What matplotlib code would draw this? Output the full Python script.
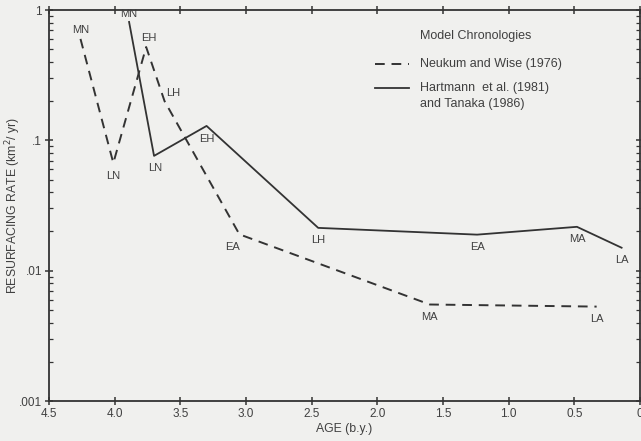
import matplotlib
matplotlib.use('Agg')
import matplotlib.pyplot as plt

# Neukum and Wise (1976)
nw_age = [4.26, 4.01, 3.76, 3.62, 3.05, 1.60, 0.33]
nw_rate = [0.60, 0.067, 0.52, 0.20, 0.019, 0.0055, 0.0053]
nw_lab = ['MN', 'LN', 'EH', 'LH', 'EA', 'MA', 'LA']

# Hartmann et al. (1981) and Tanaka (1986)
ht_age = [3.89, 3.70, 3.30, 2.45, 1.24, 0.48, 0.14]
ht_rate = [0.81, 0.076, 0.129, 0.0213, 0.0189, 0.0217, 0.015]
ht_lab = ['MN', 'LN', 'EH', 'LH', 'EA', 'MA', 'LA']

xticks = [4.5, 4.0, 3.5, 3.0, 2.5, 2.0, 1.5, 1.0, 0.5, 0.0]
xticklabels = ['4.5', '4.0', '3.5', '3.0', '2.5', '2.0', '1.5', '1.0', '0.5', '0']
yticks = [0.001, 0.01, 0.1, 1]
yticklabels = ['.001', '.01', '.1', '1']

ink = '#333333'
txt = '#404040'
plt.rcParams['font.family'] = ['Liberation Sans', 'DejaVu Sans']

fig = plt.figure(figsize=(6.41, 4.41), dpi=100, facecolor='#f0f0ee')
ax = fig.add_axes([0.0764, 0.0907, 0.9220, 0.8866])
ax.set_facecolor('#f0f0ee')

ax.plot(nw_age, nw_rate, color=ink, lw=1.4, dashes=(5, 3.5))
ax.plot(ht_age, ht_rate, color=ink, lw=1.3)

ax.set_yscale('log')
ax.set_xlim(4.5, 0.0)
ax.set_ylim(0.001, 1)
ax.set_xticks(xticks)
ax.set_xticklabels(xticklabels)
ax.set_yticks(yticks)
ax.set_yticklabels(yticklabels)

for s in ax.spines.values():
    s.set_color(ink)
    s.set_linewidth(1.3)
ax.tick_params(which='major', direction='inout', length=6, width=1.1, colors=ink,
               labelsize=8.5, top=True, right=True, pad=2, labelcolor=txt)
ax.tick_params(which='minor', direction='in', length=3, width=0.9, colors=ink,
               right=True)
ax.tick_params(axis='x', which='minor', bottom=False, top=False)

# point labels: offsets in points
nw_off = [(0, 6.5), (0, -9), (2, 6.5), (6.5, 5.5), (-5, -9), (0, -9), (0, -9)]
ht_off = [(0, 5.5), (1, -9), (0, -9.5), (0, -9), (0, -9), (0, -9), (0, -9)]
for x, y, t, o in zip(nw_age, nw_rate, nw_lab, nw_off):
    ax.annotate(t, (x, y), xytext=o, textcoords='offset points', ha='center',
                va='center', fontsize=8, color=txt, zorder=5)
for x, y, t, o in zip(ht_age, ht_rate, ht_lab, ht_off):
    ax.annotate(t, (x, y), xytext=o, textcoords='offset points', ha='center',
                va='center', fontsize=8, color=txt, zorder=5,
                annotation_clip=False)

# legend drawn by hand
tr = ax.transAxes
def fx(px):
    return (px - 49) / 591.0
def fy(py):
    return (401 - py) / 391.0
ax.text(fx(420), fy(36), 'Model Chronologies', transform=tr, fontsize=9,
        color=txt, va='center')
ax.plot([fx(375), fx(409)], [fy(64), fy(64)], transform=tr, color=ink, lw=1.4,
        dashes=(5, 3.5))
ax.text(fx(420), fy(64), 'Neukum and Wise (1976)', transform=tr, fontsize=9,
        color=txt, va='center')
ax.plot([fx(375), fx(409)], [fy(88), fy(88)], transform=tr, color=ink, lw=1.3)
ax.text(fx(420), fy(88), 'Hartmann  et al. (1981)', transform=tr, fontsize=9,
        color=txt, va='center')
ax.text(fx(420), fy(104), 'and Tanaka (1986)', transform=tr, fontsize=9,
        color=txt, va='center')

ax.set_xlabel('AGE (b.y.)', fontsize=8.8, color=txt, labelpad=2)
ax.set_ylabel('RESURFACING RATE (km$^2$/ yr)', fontsize=8.8, color=txt)
ax.yaxis.set_label_coords(fx(23), 0.5)

fig.savefig('out.png', dpi=100, facecolor=fig.get_facecolor())
